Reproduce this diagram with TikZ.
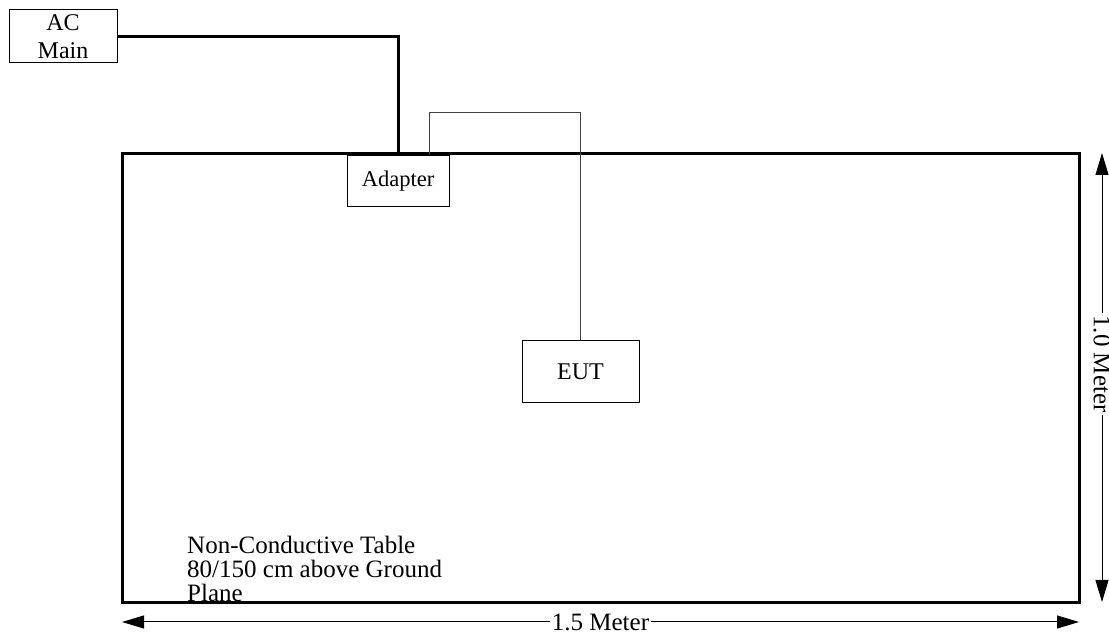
\documentclass[tikz,border=0pt]{standalone}
\usepackage{fontspec}
\setmainfont{Liberation Serif}
\usetikzlibrary{arrows.meta}

\begin{document}
\begin{tikzpicture}[x=1pt, y=1pt, font=\fontsize{25}{24}\selectfont]
		\tikzstyle{unit} = [rectangle, draw=black, line width=1pt, inner sep=0pt, text centered]
		
		\tikzstyle{tablebox} = [rectangle, draw=black, line width=3pt, minimum width=957pt, minimum height=449pt, inner sep=0pt]
		
		\tikzstyle{power} = [line width=3pt]
		\tikzstyle{cable} = [line width=1pt, draw=black!75]
		\tikzstyle{dim} = [{Triangle[length=22pt,width=13pt]}-{Triangle[length=22pt,width=13pt]}, line width=1pt]
		\tikzstyle{dimlabel} = [fill=white, inner sep=2pt]
		
		\useasboundingbox (0,0) rectangle (1109,636);
		
		% Table
		\node (table) [tablebox] at (600.5,257.5) {};
		\node (note) [anchor=base west, align=left, inner sep=0pt] at (187,34) {Non-Conductive Table\\80/150 cm above Ground\\Plane};
		
		% Units
		\node (ac) [unit, minimum width=108pt, minimum height=53pt, align=center, font=\fontsize{24}{28}\selectfont] at (63,599.5) {AC\\Main};
		\node (adapter) [unit, minimum width=102pt, minimum height=51pt, font=\fontsize{22.5}{24}\selectfont] at (398,454.5) {Adapter};
		\node (eut) [unit, minimum width=117pt, minimum height=62pt, font=\fontsize{24}{24}\selectfont] at (580.5,264) {EUT};
		
		% Cables
		\coordinate (loop) at (580.5,523);
		\draw [power] (ac.east) -| (adapter.north);
		\draw [cable] ([xshift=31pt]adapter.north) |- (loop) -- (eut.north);
		
		% Dimensions
		\coordinate (w1) at (122,14);
		\coordinate (w2) at (1079,14);
		\coordinate (h1) at (1102,483);
		\coordinate (h2) at (1102,34);
		\draw [dim] (w1) -- (w2) node [dimlabel, midway] {1.5 Meter};
		\draw [dim] (h1) -- (h2) node [dimlabel, pos=0.47, rotate=-90] {1.0 Meter};
		\end{tikzpicture}
\end{document}
